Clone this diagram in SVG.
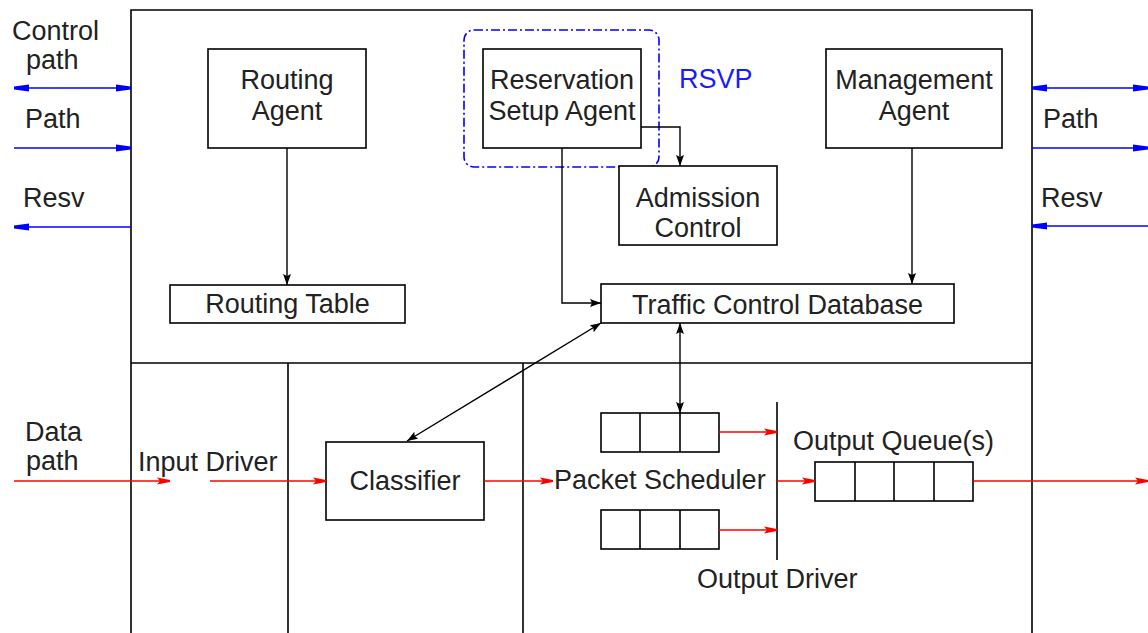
<svg xmlns="http://www.w3.org/2000/svg" width="1148" height="633" viewBox="0 0 1148 633">
<style>
text{font-family:"Liberation Sans",Arial,sans-serif;font-size:27px;fill:#222}
.m{text-anchor:middle}
.box{fill:#fff;stroke:#000;stroke-width:1.6}
.ln{fill:none;stroke:#000;stroke-width:1.6}
.blk{fill:none;stroke:#000;stroke-width:1.4}
.blu{fill:none;stroke:#0000ff;stroke-width:1.6}
.red{fill:none;stroke:#ff0000;stroke-width:1.6}
</style>
<defs>
<marker id="ak" markerUnits="userSpaceOnUse" markerWidth="12" markerHeight="10" refX="11" refY="4.5" orient="auto-start-reverse"><path d="M0,0.5 L11,4.5 L0,8.5 L2,4.5 z" fill="#000"/></marker>
<marker id="ab" markerUnits="userSpaceOnUse" markerWidth="16" markerHeight="10" refX="15" refY="4.5" orient="auto-start-reverse"><path d="M0,1 L15,3 L15,6 L0,8 z" fill="#0000ff"/></marker>
<marker id="ar" markerUnits="userSpaceOnUse" markerWidth="14" markerHeight="10" refX="13" refY="4.5" orient="auto-start-reverse"><path d="M0,1 L13,3.5 L13,5.5 L0,8 L3,4.5 z" fill="#ff0000"/></marker>
</defs>

<g id="frame">
<path class="ln" d="M131,633 V10 H1032 V633"/>
<line class="ln" x1="131" y1="363" x2="1032" y2="363"/>
<line class="ln" x1="288" y1="363" x2="288" y2="633"/>
<line class="ln" x1="523" y1="363" x2="523" y2="633"/>
</g>

<g id="rsvp-group">
<rect x="464" y="30" width="195" height="137" rx="10" ry="10" fill="none" stroke="#0000ff" stroke-width="1.6" stroke-dasharray="9 3 2 3"/>
<text x="679" y="88" style="fill:#1a1aff">RSVP</text>
</g>

<g id="routing-agent">
<rect class="box" x="208" y="49" width="158" height="99"/>
<text class="m" x="287" y="89">Routing</text>
<text class="m" x="287" y="120">Agent</text>
</g>

<g id="reservation-setup-agent">
<rect class="box" x="483" y="49" width="158" height="99"/>
<text class="m" x="562" y="89">Reservation</text>
<text class="m" x="562" y="120">Setup Agent</text>
</g>

<g id="management-agent">
<rect class="box" x="826" y="49" width="176" height="99"/>
<text class="m" x="914" y="89">Management</text>
<text class="m" x="914" y="120">Agent</text>
</g>

<g id="admission-control">
<rect class="box" x="619" y="166" width="158" height="79"/>
<text class="m" x="698" y="207">Admission</text>
<text class="m" x="698" y="237">Control</text>
</g>

<g id="routing-table">
<rect class="box" x="170" y="285" width="235" height="38"/>
<text class="m" x="287.5" y="313">Routing Table</text>
</g>

<g id="traffic-control-database">
<rect class="box" x="601" y="284" width="353" height="39"/>
<text class="m" x="777.5" y="314">Traffic Control Database</text>
</g>

<g id="classifier">
<rect class="box" x="326" y="442" width="158" height="78"/>
<text class="m" x="405" y="490">Classifier</text>
</g>

<g id="scheduler-queue-1">
<rect class="box" x="601" y="413" width="118" height="39"/>
<line class="ln" x1="640" y1="413" x2="640" y2="452"/>
<line class="ln" x1="680" y1="413" x2="680" y2="452"/>
</g>

<g id="scheduler-queue-2">
<rect class="box" x="601" y="510" width="118" height="39"/>
<line class="ln" x1="640" y1="510" x2="640" y2="549"/>
<line class="ln" x1="680" y1="510" x2="680" y2="549"/>
</g>

<g id="output-driver">
<line class="ln" x1="777" y1="402" x2="777" y2="560"/>
<text x="697" y="588">Output Driver</text>
</g>

<g id="output-queue">
<rect class="box" x="815" y="462" width="158" height="39"/>
<line class="ln" x1="855" y1="462" x2="855" y2="501"/>
<line class="ln" x1="894" y1="462" x2="894" y2="501"/>
<line class="ln" x1="934" y1="462" x2="934" y2="501"/>
<text x="793" y="450">Output Queue(s)</text>
</g>

<g id="labels">
<text x="12" y="40">Control</text>
<text x="26" y="69">path</text>
<text x="25" y="128">Path</text>
<text x="23" y="207">Resv</text>
<text x="1043" y="128">Path</text>
<text x="1041" y="207">Resv</text>
<text x="25" y="441">Data</text>
<text x="26" y="470">path</text>
<text x="138" y="471">Input Driver</text>
<text x="554" y="489">Packet Scheduler</text>
</g>

<g id="connectors">
<line class="blu" x1="14" y1="88" x2="131" y2="88" marker-start="url(#ab)" marker-end="url(#ab)"/>
<line class="blu" x1="14" y1="148" x2="131" y2="148" marker-end="url(#ab)"/>
<line class="blu" x1="131" y1="227" x2="14" y2="227" marker-end="url(#ab)"/>
<line class="blu" x1="1032" y1="88" x2="1148" y2="88" marker-start="url(#ab)" marker-end="url(#ab)"/>
<line class="blu" x1="1032" y1="148" x2="1148" y2="148" marker-end="url(#ab)"/>
<line class="blu" x1="1148" y1="226" x2="1032" y2="226" marker-end="url(#ab)"/>
<line class="blk" x1="287" y1="148" x2="287" y2="285" marker-end="url(#ak)"/>
<line class="blk" x1="912" y1="148" x2="912" y2="284" marker-end="url(#ak)"/>
<polyline class="blk" points="562,148 562,303 601,303" marker-end="url(#ak)"/>
<polyline class="blk" points="641,127 680,127 680,166" marker-end="url(#ak)"/>
<line class="blk" x1="680" y1="323" x2="680" y2="413" marker-start="url(#ak)" marker-end="url(#ak)"/>
<line class="blk" x1="601" y1="323" x2="407" y2="441" marker-start="url(#ak)" marker-end="url(#ak)"/>
<line class="red" x1="14" y1="481" x2="170" y2="481" marker-end="url(#ar)"/>
<line class="red" x1="210" y1="481" x2="326" y2="481" marker-end="url(#ar)"/>
<line class="red" x1="484" y1="481" x2="553" y2="481" marker-end="url(#ar)"/>
<line class="red" x1="719" y1="432" x2="777" y2="432" marker-end="url(#ar)"/>
<line class="red" x1="719" y1="530" x2="777" y2="530" marker-end="url(#ar)"/>
<line class="red" x1="777" y1="481" x2="815" y2="481" marker-end="url(#ar)"/>
<line class="red" x1="973" y1="481" x2="1148" y2="481" marker-end="url(#ar)"/>
</g>
</svg>
